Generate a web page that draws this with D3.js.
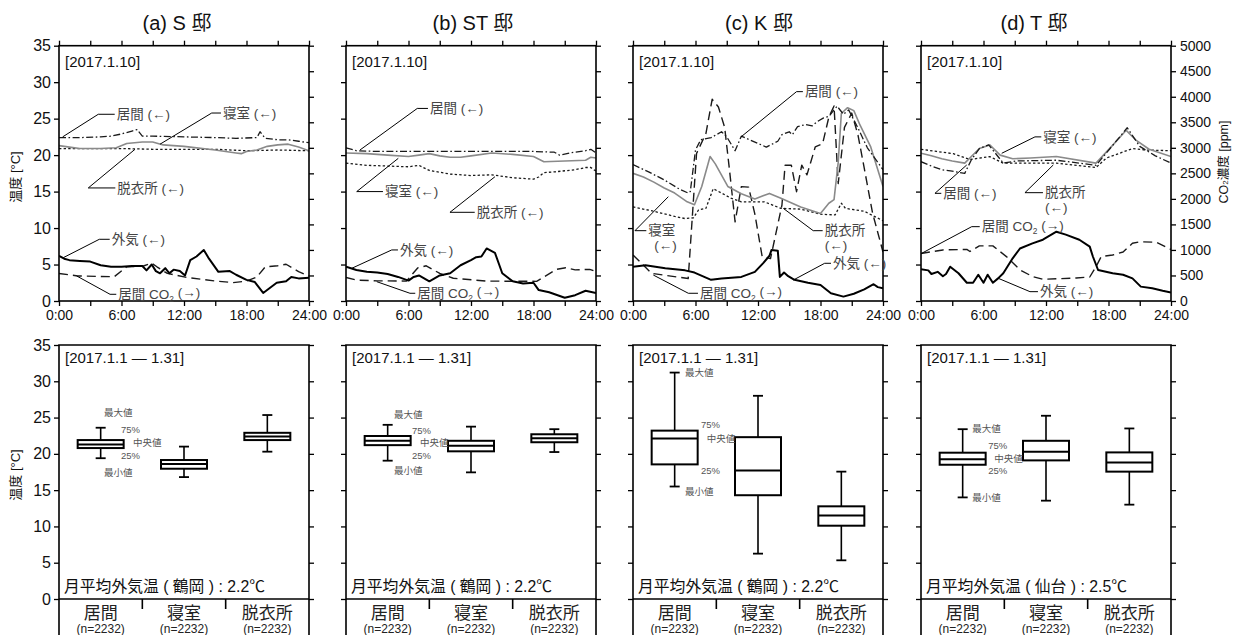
<!DOCTYPE html>
<html>
<head>
<meta charset="utf-8">
<script src="https://cdn.jsdelivr.net/npm/d3@7"></script>
<style>
  body { margin: 0; background: #fff; }
  svg { display: block; font-family: "Liberation Sans", Arial, "Noto Sans CJK JP", sans-serif; }
</style>
</head>
<body>
<svg id="chart" width="1242" height="635"></svg>
<script>
// ---- labels ----
const houses = ["(a) S 邸", "(b) ST 邸", "(c) K 邸", "(d) T 邸"];
const dayLabel = "[2017.1.10]";
const monthLabel = "[2017.1.1 — 1.31]";
const hourTicks = [0, 3, 6, 9, 12, 15, 18, 21, 24];
const hourLabels = ["0:00", "", "6:00", "", "12:00", "", "18:00", "", "24:00"];
const tempTicks = [0, 5, 10, 15, 20, 25, 30, 35];
const co2Ticks = [0, 500, 1000, 1500, 2000, 2500, 3000, 3500, 4000, 4500, 5000];
const rooms = ["居間", "寝室", "脱衣所"];
const sampleNote = "(n=2232)";
const outdoorNotes = [
  "月平均外気温 ( 鶴岡 ) : 2.2℃",
  "月平均外気温 ( 鶴岡 ) : 2.2℃",
  "月平均外気温 ( 鶴岡 ) : 2.2℃",
  "月平均外気温 ( 仙台 ) : 2.5℃"
];
const boxNoteTexts = ["最大値", "75%", "中央値", "25%", "最小値"];

// ---- daily series, 2017.1.10 : [hour, °C] or [hour, ppm] ----
const sLiving = [[0,22.4],[2,22.4],[4,22.5],[5,22.6],[6,22.9],[7,23.3],[7.5,23.5],[8,22.6],[9,22.6],[12,22.5],[15,22.4],[17,22.3],[19,22.4],[19.3,23.2],[19.8,22.3],[21,22.1],[22,22.1],[23,21.9],[24,21.7]];
const sBedroom = [[0,21.3],[1,21.1],[2,20.9],[4,20.9],[5.5,21.0],[6.5,21.6],[8,21.8],[9,21.8],[10,21.4],[12,21.2],[15,20.7],[17,20.3],[17.5,20.2],[18,20.5],[19,20.7],[20,21.2],[21,21.4],[22,21.5],[23,21.1],[24,20.6]];
const sChanging = [[0,20.9],[3,20.9],[6,20.9],[9,20.8],[12,20.8],[15,20.8],[18,20.6],[21,20.7],[24,20.6]];
const sOutdoor = [[0,6.2],[0.5,5.8],[1,5.6],[2,5.5],[3,5.4],[4,4.9],[5,4.7],[6,4.7],[7,4.8],[8,4.8],[8.4,4.2],[8.9,5.0],[9.3,4.1],[9.7,3.8],[10.2,4.5],[10.6,3.8],[11,4.3],[11.6,4.1],[12.1,3.5],[12.6,5.6],[13.2,6.1],[13.9,7.0],[14.4,5.8],[15.3,4.0],[16.4,4.1],[17,3.6],[18,2.9],[18.8,2.6],[19.6,1.1],[20.9,2.5],[21.8,2.7],[22.3,3.3],[23,3.1],[24,3.2]];
const sCO2 = [[0,540],[1.8,490],[5.3,475],[6.5,670],[8.1,685],[8.9,740],[9.4,670],[10.4,540],[12.3,460],[15.1,390],[16.7,360],[18,390],[19,470],[19.8,670],[21,690],[21.8,720],[23,575],[24,490]];

const stLiving = [[0,21.0],[1,20.6],[3,20.5],[6,20.5],[9,20.5],[12,20.5],[15,20.5],[18,20.5],[20,20.4],[20.5,20.0],[21.5,20.3],[23,20.6],[23.5,20.8],[24,20.3]];
const stBedroom = [[0,20.3],[2,20.2],[4,20.0],[6,19.8],[7,20.0],[8,20.2],[9,19.9],[10,19.7],[11,19.7],[12,19.9],[14,20.3],[16,20.1],[18,19.8],[19,19.1],[21,19.2],[23,19.3],[23.5,19.7],[24,19.6]];
const stChanging = [[0,18.9],[2,18.6],[4,18.5],[6,18.4],[7,18.6],[8,17.9],[10,17.4],[12,17.2],[14,17.3],[16,16.9],[18,16.7],[18.5,17.0],[19,17.6],[20,17.7],[22,18.0],[23,18.3],[23.5,18.3],[24,17.8]];
const stOutdoor = [[0,4.7],[1,4.25],[2,4.0],[3,3.9],[4,3.7],[5,3.3],[6,2.8],[6.5,3.3],[7,3.5],[8,2.7],[9,3.5],[10,3.8],[11,4.9],[12,5.6],[12.5,6.0],[13,6.1],[13.5,7.2],[14.3,6.6],[14.7,5.0],[15,3.8],[16,2.7],[17,2.4],[18,2.5],[18.5,1.5],[19.5,1.2],[21,0.45],[22,0.8],[23,1.4],[24,1.1]];
const stCO2 = [[0,460],[1,410],[3,395],[5.8,390],[6.9,650],[7.7,690],[9,540],[10.3,445],[13.5,390],[18.3,385],[20.2,620],[21.1,650],[22,610],[23.4,620],[24,575]];

const kLiving = [[0,18.7],[1.5,17.7],[3,16.6],[4.5,15.3],[5.3,14.8],[5.5,15.0],[6,20.7],[6.5,22.1],[7.5,22.4],[8.5,23.2],[9,22.5],[9.8,20.6],[10.4,22.6],[12,21.6],[12.8,21.1],[13.9,21.9],[14.3,22.8],[15,23.2],[15.3,22.8],[15.8,23.9],[16.6,24.2],[17.2,24.0],[17.7,24.6],[18.3,25.1],[18.8,25.3],[19.3,26.2],[19.6,26.7],[20.2,25.6],[20.7,26.2],[21.5,24.0],[22.5,21.0],[24,18.0]];
const kBedroom = [[0,17.5],[1,17.0],[2,16.3],[3,15.5],[4,14.8],[5.2,13.6],[5.9,13.2],[6.6,15.7],[7.4,19.8],[7.9,18.8],[9.1,15.7],[10.4,14.7],[11.7,14.0],[13.1,14.75],[14.2,14.1],[16.1,12.9],[18,12.0],[18.8,13.4],[19.3,13.9],[19.7,19.0],[20,25.7],[20.6,26.5],[21.2,26.1],[21.8,24.1],[22.8,21.2],[24,15.7]];
const kChanging = [[0,12.9],[2,12.3],[4,11.6],[5,11.3],[5.8,11.4],[6.3,12.5],[7,12.7],[7.7,15.4],[8.5,14.8],[9.4,14.1],[10.4,13.6],[12.6,13.6],[14.2,12.7],[16.1,12.6],[18,11.9],[19.4,11.8],[20,13.4],[20.4,12.7],[22.2,12.3],[24,11.0]];
const kOutdoor = [[0,4.7],[1.2,4.9],[3.1,4.5],[5,4.2],[5.9,3.9],[7.5,2.9],[8.5,3.1],[10.4,3.3],[11.7,4.0],[12.5,5.2],[13.1,6.2],[13.3,7.0],[13.9,6.9],[14.1,3.3],[14.5,3.9],[14.9,3.4],[15.5,2.9],[16.8,2.5],[18,2.2],[19,1.05],[20.2,0.6],[21.2,1.0],[22.2,1.6],[23.1,2.3],[23.5,1.9],[24,1.75]];
const kCO2 = [[0,900],[1.8,540],[5.3,440],[6.1,2890],[7,3280],[7.6,3950],[8.2,3800],[8.8,3400],[9.3,2500],[9.8,1550],[10.4,2240],[11.1,2230],[11.7,1700],[12.4,870],[13.2,830],[14.3,1880],[14.6,2660],[15.2,2660],[15.7,2140],[16.2,2660],[16.7,2470],[17.5,3020],[18.2,3080],[18.8,3600],[19.3,3820],[19.7,2300],[20.3,3400],[21,3680],[21.6,3250],[22.2,2600],[23,1720],[24,960]];

const tLiving = [[0,19.1],[1,18.5],[2,18.0],[3,17.8],[4.2,17.5],[4.85,19.4],[5.6,20.9],[6.5,21.4],[7.9,18.9],[9.2,19.2],[13,19.3],[16.8,18.6],[18.5,21.5],[19.8,23.75],[21,21.2],[22.5,19.9],[24,18.9]];
const tBedroom = [[0,20.25],[1,19.9],[2,19.5],[3,19.2],[4.2,18.9],[5.6,20.9],[6.6,21.4],[7.6,20.0],[8.8,19.5],[10.5,19.6],[13,19.8],[16.8,18.9],[18.3,21.2],[19.7,23.4],[20.6,22.1],[21.9,20.8],[24,19.8]];
const tChanging = [[0,20.8],[1.5,20.5],[3.1,20.2],[4.7,19.4],[6.6,19.8],[7.9,18.9],[13,18.9],[16.8,18.3],[17.8,19.6],[20.3,20.9],[21.5,20.7],[24,20.6]];
const tOutdoor = [[0,4.35],[0.7,4.2],[1,3.7],[1.6,4.0],[2.1,3.4],[2.4,3.7],[2.8,4.7],[3.6,3.8],[4.4,2.5],[5,2.5],[5.5,3.6],[6,2.5],[6.4,3.6],[6.9,2.5],[7.4,3.1],[7.9,3.8],[8.8,5.85],[9.5,7.2],[10.7,7.9],[11.7,8.4],[13,9.5],[13.9,9.1],[15.2,8.4],[16.2,7.45],[16.5,6.1],[17,4.25],[18.4,3.8],[19.4,3.6],[20.3,3.1],[21.1,1.97],[22.2,1.75],[23.2,1.4],[24,1.15]];
const tCO2 = [[0,930],[2.1,1000],[4.4,1010],[4.7,970],[5.6,1080],[6.9,1080],[8.2,870],[9.5,610],[10.7,480],[11.7,425],[14.9,450],[16.2,470],[16.8,670],[17.3,870],[18.4,900],[19.4,960],[20.3,1130],[21,1160],[22.6,1150],[24,1010]];

// ---- monthly statistics, 2017.1.1-1.31 : [min, q1, median, q3, max] per room ----
const sBoxes  = [[19.4, 20.8, 21.3, 21.9, 23.6], [16.8, 17.95, 18.6, 19.15, 21.0], [20.3, 21.9, 22.4, 22.9, 25.35]];
const stBoxes = [[19.06, 21.2, 21.8, 22.46, 24.0], [17.45, 20.35, 21.1, 21.8, 23.75], [20.25, 21.6, 22.15, 22.7, 23.4]];
const kBoxes  = [[15.5, 18.55, 22.1, 23.2, 31.2], [6.25, 14.3, 17.7, 22.3, 28.0], [5.33, 10.1, 11.5, 12.77, 17.55]];
const tBoxes  = [[14.0, 18.5, 19.25, 20.16, 23.4], [13.55, 19.1, 20.3, 21.8, 25.25], [13.0, 17.55, 18.8, 20.2, 23.5]];

const dailySeries = [
  { living: sLiving,  bedroom: sBedroom,  changing: sChanging,  outdoor: sOutdoor,  co2: sCO2 },
  { living: stLiving, bedroom: stBedroom, changing: stChanging, outdoor: stOutdoor, co2: stCO2 },
  { living: kLiving,  bedroom: kBedroom,  changing: kChanging,  outdoor: kOutdoor,  co2: kCO2 },
  { living: tLiving,  bedroom: tBedroom,  changing: tChanging,  outdoor: tOutdoor,  co2: tCO2 }
];
const monthlyBoxes = [sBoxes, stBoxes, kBoxes, tBoxes];

// ---- layout ----
const H = 635;
const panelLeft = [59, 346, 633, 921];
const panelW = 250;
const topTop = 45.7, topBottom = 301;
const botTop = 345, botBottom = 599;
const titleX = [177, 473, 759, 1034];

const lineStyle = {
  co2:      { stroke: "#1a1a1a", width: 1.4, dash: "9,5" },
  outdoor:  { stroke: "#000",    width: 2.0, dash: null },
  changing: { stroke: "#1a1a1a", width: 1.3, dash: "2.4,2.2" },
  bedroom:  { stroke: "#8a8a8a", width: 1.6, dash: null },
  living:   { stroke: "#1a1a1a", width: 1.3, dash: "7,2.5,1.6,2.5" }
};
const drawOrder = ["co2", "outdoor", "changing", "bedroom", "living"];

// leader annotations in data units: text anchor [hour, °C], elbow hour, tip [hour, °C]
const leaders = [
  [
    { text: "居間 (←)",   at: [5.54, 25.6],  elbow: 3.77,  tip: [0.35, 22.5] },
    { text: "寝室 (←)",   at: [15.74, 25.77], elbow: 14.66, tip: [9.7, 21.5] },
    { text: "脱衣所 (←)", at: [5.6, 15.5],   elbow: 2.81,  tip: [7.3, 20.8] },
    { text: "外気 (←)",   at: [5.06, 8.46],  elbow: 3.87,  tip: [0.41, 5.94] },
    { text: "居間 CO₂ (→)", at: [5.69, 0.92], elbow: 4.9,  tip: [1.7, 3.43] }
  ],
  [
    { text: "居間 (←)",   at: [8.06, 26.4],  elbow: 6.84,  tip: [1.34, 20.7] },
    { text: "寝室 (←)",   at: [3.74, 15.0],  elbow: 1.03,  tip: [5.02, 19.56] },
    { text: "脱衣所 (←)", at: [12.55, 12.16], elbow: 9.98, tip: [14.3, 17.04] },
    { text: "外気 (←)",   at: [5.18, 7.0],   elbow: 4.39,  tip: [0.55, 4.48] },
    { text: "居間 CO₂ (→)", at: [6.84, 1.06], elbow: 6.14, tip: [2.95, 2.65] }
  ],
  [
    { text: "居間 (←)",   at: [16.5, 28.7],  elbow: 15.7,  tip: [10.37, 22.5] },
    { text: "寝室\n(←)",  at: [1.47, 9.64],  elbow: 0.19,  tip: [3.39, 14.3] },
    { text: "脱衣所\n(←)", at: [18.4, 9.64], elbow: 17.3,  tip: [14.43, 12.7] },
    { text: "外気 (←)",   at: [19.2, 5.17],  elbow: 18.4,  tip: [15.4, 2.88] },
    { text: "居間 CO₂ (→)", at: [6.43, 1.06], elbow: 5.31, tip: [1.95, 3.56] }
  ],
  [
    { text: "寝室 (←)",   at: [11.74, 22.5], elbow: 10.94, tip: [7.75, 20.25] },
    { text: "居間 (←)",   at: [2.14, 14.76], elbow: 1.34,  tip: [4.39, 18.65] },
    { text: "脱衣所\n(←)", at: [11.9, 14.85], elbow: 9.98, tip: [12.7, 18.65] },
    { text: "居間 CO₂ (→)", at: [5.83, 10.19], elbow: 4.87, tip: [0.07, 6.54] },
    { text: "外気 (←)",   at: [11.42, 1.28], elbow: 10.46, tip: [7.42, 3.11] }
  ]
];

// box-plot key labels beside the 居間 box: x offset from panel left, level in °C
const boxKeyLayout = [
  { dx: [45, 62, 74, 62, 45],       t: [25.63, 23.3, 21.54, 19.75, 17.4] },
  { dx: [48, 66, 74, 66, 48],       t: [25.35, 23.25, 21.54, 19.75, 17.68] },
  { dx: [52, 68, 73.7, 68, 52],     t: [31.24, 23.98, 22.1, 17.73, 14.8] },
  { dx: [51.3, 67.3, 73.3, 67.3, 51.3], t: [23.52, 21.12, 19.39, 17.68, 14.0] }
];

const svg = d3.select("#chart");
const defs = svg.append("defs");

function styleAxis(sel, size) {
  sel.select(".domain").remove();
  sel.selectAll(".tick line").attr("stroke", "#000").attr("stroke-width", 1.3);
  sel.selectAll(".tick text").attr("fill", "#111").attr("font-size", size)
     .attr("font-family", "'Liberation Sans', Arial, sans-serif");
}

// rich label writer: handles the CO₂ subscript and line breaks
function writeLabel(g, text, x, y, opts) {
  const lines = text.split("\n");
  lines.forEach((ln, k) => {
    const t = g.append("text")
      .attr("x", x + (k > 0 && opts.indent ? opts.indent : 0))
      .attr("y", y + k * 15)
      .attr("dy", "0.35em")
      .attr("fill", opts.fill)
      .attr("font-size", opts.size);
    const m = ln.match(/^(.*CO)₂(.*)$/);
    if (m) {
      t.append("tspan").text(m[1]);
      t.append("tspan").attr("font-size", opts.size * 0.62).attr("dy", "0.3em").text("2");
      t.append("tspan").attr("dy", "-0.3em").text(m[2]);
    } else {
      t.text(ln);
    }
  });
}

houses.forEach((name, i) => {
  const x0 = panelLeft[i];
  const x = d3.scaleLinear().domain([0, 24]).range([x0, x0 + panelW]);
  const yT = d3.scaleLinear().domain([0, 35]).range([topBottom, topTop]);
  const yC = d3.scaleLinear().domain([0, 5000]).range([topBottom, topTop]);
  const g = svg.append("g");

  // title
  g.append("text").attr("x", titleX[i]).attr("y", 23).attr("dy", "0.35em")
    .attr("text-anchor", "middle").attr("font-size", 20).attr("fill", "#111").text(name);

  // ---------- daily time series ----------
  const clipId = "clip" + i;
  defs.append("clipPath").attr("id", clipId).append("rect")
    .attr("x", x0).attr("y", topTop).attr("width", panelW).attr("height", topBottom - topTop);

  const axB = g.append("g").attr("transform", `translate(0,${topBottom})`)
    .call(d3.axisBottom(x).tickValues(hourTicks).tickSize(5).tickPadding(4)
      .tickFormat((d, k) => hourLabels[k]));
  styleAxis(axB, 14);
  const axTop = g.append("g").attr("transform", `translate(0,${topTop})`)
    .call(d3.axisTop(x).tickValues(hourTicks).tickSize(5).tickFormat(""));
  styleAxis(axTop, 14);
  const axL = g.append("g").attr("transform", `translate(${x0},0)`)
    .call(d3.axisLeft(yT).tickValues(tempTicks).tickSize(5).tickPadding(3)
      .tickFormat(i === 0 ? d3.format("d") : ""));
  styleAxis(axL, 16);
  const axR = g.append("g").attr("transform", `translate(${x0 + panelW},0)`)
    .call(d3.axisRight(yC).tickValues(co2Ticks).tickSize(5).tickPadding(4)
      .tickFormat(i === 3 ? d3.format("d") : ""));
  styleAxis(axR, 14);

  const lines = g.append("g").attr("clip-path", `url(#${clipId})`);
  drawOrder.forEach(key => {
    const yScale = key === "co2" ? yC : yT;
    const gen = d3.line().x(d => x(d[0])).y(d => yScale(d[1]));
    const st = lineStyle[key];
    lines.append("path").datum(dailySeries[i][key])
      .attr("d", gen).attr("fill", "none")
      .attr("stroke", st.stroke).attr("stroke-width", st.width)
      .attr("stroke-dasharray", st.dash).attr("stroke-linejoin", "round");
  });

  g.append("rect").attr("x", x0).attr("y", topTop).attr("width", panelW)
    .attr("height", topBottom - topTop).attr("fill", "none")
    .attr("stroke", "#000").attr("stroke-width", 1.6);

  g.append("text").attr("x", x0 + 6).attr("y", 61.5).attr("dy", "0.35em")
    .attr("font-size", 15).attr("fill", "#111").text(dayLabel);

  // leader annotations
  leaders[i].forEach(a => {
    const tx = x(a.at[0]), ty = yT(a.at[1]);
    const ex = x(a.elbow);
    g.append("path")
      .attr("d", `M${tx - 2},${ty} L${ex},${ty} L${x(a.tip[0])},${yT(a.tip[1])}`)
      .attr("fill", "none").attr("stroke", "#000").attr("stroke-width", 1);
    const indent = (a.text.startsWith("寝室\n")) ? 6 : 0;
    writeLabel(g, a.text, tx, ty, { fill: "#444", size: 13.5, indent: indent });
  });

  // ---------- monthly box plots ----------
  const yB = d3.scaleLinear().domain([0, 35]).range([botBottom, botTop]);
  const xB = d3.scaleBand().domain(rooms).range([x0, x0 + panelW]);
  const bw = 46, cap = 10;

  const bL = g.append("g").attr("transform", `translate(${x0},0)`)
    .call(d3.axisLeft(yB).tickValues(tempTicks).tickSize(5).tickPadding(3)
      .tickFormat(i === 0 ? d3.format("d") : ""));
  styleAxis(bL, 16);
  const bR = g.append("g").attr("transform", `translate(${x0 + panelW},0)`)
    .call(d3.axisRight(yB).tickValues(tempTicks).tickSize(5).tickFormat(""));
  styleAxis(bR, 14);

  // frame: top, sides running down past the zero line, zero line
  g.append("path")
    .attr("d", `M${x0},${H} L${x0},${botTop} L${x0 + panelW},${botTop} L${x0 + panelW},${H}`)
    .attr("fill", "none").attr("stroke", "#000").attr("stroke-width", 1.6);
  g.append("line").attr("x1", x0).attr("x2", x0 + panelW)
    .attr("y1", yB(0)).attr("y2", yB(0)).attr("stroke", "#000").attr("stroke-width", 1.6);
  rooms.slice(1).forEach(r => {
    g.append("line").attr("x1", xB(r)).attr("x2", xB(r))
      .attr("y1", yB(0)).attr("y2", yB(0) + 10).attr("stroke", "#000").attr("stroke-width", 1.6);
  });

  monthlyBoxes[i].forEach((b, k) => {
    const cx = xB(rooms[k]) + xB.bandwidth() / 2;
    const [mn, q1, md, q3, mx] = b;
    const bg = g.append("g").attr("stroke", "#000").attr("fill", "none");
    bg.append("line").attr("x1", cx).attr("x2", cx).attr("y1", yB(mx)).attr("y2", yB(q3)).attr("stroke-width", 1.6);
    bg.append("line").attr("x1", cx).attr("x2", cx).attr("y1", yB(q1)).attr("y2", yB(mn)).attr("stroke-width", 1.6);
    bg.append("line").attr("x1", cx - cap / 2).attr("x2", cx + cap / 2).attr("y1", yB(mx)).attr("y2", yB(mx)).attr("stroke-width", 1.8);
    bg.append("line").attr("x1", cx - cap / 2).attr("x2", cx + cap / 2).attr("y1", yB(mn)).attr("y2", yB(mn)).attr("stroke-width", 1.8);
    bg.append("rect").attr("x", cx - bw / 2).attr("y", yB(q3)).attr("width", bw)
      .attr("height", yB(q1) - yB(q3)).attr("fill", "#fff").attr("stroke-width", 2);
    bg.append("line").attr("x1", cx - bw / 2).attr("x2", cx + bw / 2).attr("y1", yB(md)).attr("y2", yB(md)).attr("stroke-width", 2);

    g.append("text").attr("x", cx).attr("y", 613).attr("dy", "0.35em").attr("text-anchor", "middle")
      .attr("font-size", 17).attr("fill", "#222").text(rooms[k]);
    g.append("text").attr("x", cx).attr("y", 629).attr("dy", "0.35em").attr("text-anchor", "middle")
      .attr("font-size", 12).attr("fill", "#222").text(sampleNote);
  });

  // key next to the first box
  const key = boxKeyLayout[i];
  boxNoteTexts.forEach((t, k) => {
    g.append("text").attr("x", x0 + key.dx[k]).attr("y", yB(key.t[k])).attr("dy", "0.35em")
      .attr("font-size", 9.5).attr("fill", "#555").text(t);
  });

  g.append("text").attr("x", x0 + 6).attr("y", 358).attr("dy", "0.35em")
    .attr("font-size", 15).attr("fill", "#111").text(monthLabel);
  g.append("text").attr("x", x0 + 5).attr("y", 586).attr("dy", "0.35em")
    .attr("font-size", 15.8).attr("fill", "#111").text(outdoorNotes[i]);
});

// axis titles
svg.append("text").attr("transform", "translate(15,177) rotate(-90)").attr("dy", "0.35em")
  .attr("text-anchor", "middle").attr("font-size", 13).attr("fill", "#111").text("温度 [°C]");
svg.append("text").attr("transform", "translate(15,475) rotate(-90)").attr("dy", "0.35em")
  .attr("text-anchor", "middle").attr("font-size", 13).attr("fill", "#111").text("温度 [°C]");
const co2Title = svg.append("text").attr("transform", "translate(1224,162) rotate(-90)").attr("dy", "0.35em")
  .attr("text-anchor", "middle").attr("font-size", 12.5).attr("fill", "#111");
co2Title.append("tspan").text("CO");
co2Title.append("tspan").attr("font-size", 8).text("2");
co2Title.append("tspan").text("濃度 [ppm]");
</script>
</body>
</html>
